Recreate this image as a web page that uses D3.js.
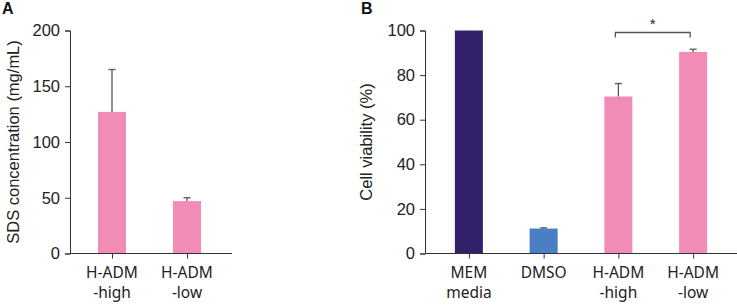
<!DOCTYPE html>
<html>
<head>
<meta charset="utf-8">
<script src="https://cdn.jsdelivr.net/npm/d3@7"></script>
<style>
  body { margin: 0; background: #fff; }
  svg { display: block; }
  .tick text { font-family: "Liberation Sans", Arial, sans-serif; font-size: 16.5px; fill: #222; }
  .cat { font-family: "Noto Sans", sans-serif; font-size: 15.5px; fill: #222; }
  .ylab { font-family: "Liberation Sans", Arial, sans-serif; font-size: 16.5px; fill: #222; }
  .panel { font-family: "Liberation Sans", Arial, sans-serif; font-size: 16px; font-weight: bold; fill: #111; }
</style>
</head>
<body>
<svg id="chart" width="737" height="305"></svg>
<script>
// panel A: SDS concentration
const catsA   = [['H-ADM', '-high'], ['H-ADM', '-low']];
const valuesA = [127, 47];
const errorsA = [38, 3];
const ticksA  = [0, 50, 100, 150, 200];

// panel B: cell viability
const catsB   = [['MEM', 'media'], ['DMSO'], ['H-ADM', '-high'], ['H-ADM', '-low']];
const valuesB = [100, 11.2, 70.4, 90.4];
const errorsB = [0, 0.3, 5.8, 1.2];
const colorsB = ['#33206b', '#4a7fc4', '#f08cb6', '#f08cb6'];
const ticksB  = [0, 20, 40, 60, 80, 100];

const pink = '#f08cb6';
const svg = d3.select('#chart');

function panel(opt) {
    const y = d3.scaleLinear().domain([0, opt.max]).range([253.5, 30.5]);
    const x = d3.scalePoint().domain(opt.cats.map((d, i) => i)).range(opt.xr).padding(0.5);
    const g = svg.append('g');

    // bars
    g.selectAll('rect.bar')
        .data(opt.values)
        .enter()
        .append('rect')
        .attr('class', 'bar')
        .attr('x', (d, i) => x(i) - 14)
        .attr('width', 28)
        .attr('y', d => y(d))
        .attr('height', d => y(0) - y(d))
        .attr('fill', (d, i) => opt.colors[i]);

    // error bars (upper only)
    opt.values.forEach((v, i) => {
        if (!opt.errors[i]) return;
        const top = y(v + opt.errors[i]);
        g.append('line')
            .attr('x1', x(i)).attr('x2', x(i))
            .attr('y1', y(v)).attr('y2', top)
            .attr('stroke', '#555').attr('stroke-width', 1.3);
        g.append('line')
            .attr('x1', x(i) - 3.5).attr('x2', x(i) + 3.5)
            .attr('y1', top).attr('y2', top)
            .attr('stroke', '#555').attr('stroke-width', 1.3);
    });

    // y axis
    g.append('g')
        .attr('transform', `translate(${opt.x0}, 0)`)
        .call(d3.axisLeft(y).tickValues(opt.ticks).tickSizeOuter(0).tickSize(5).tickPadding(5))
        .call(a => a.selectAll('path, line').attr('stroke', '#333'));

    // x axis
    const xa = g.append('g')
        .attr('transform', `translate(0, ${y(0)})`)
        .call(d3.axisBottom(x).tickSize(5).tickFormat(''));
    xa.select('.domain').remove();
    xa.selectAll('line').attr('stroke', '#333');
    g.append('line')
        .attr('x1', opt.x0).attr('x2', opt.x1)
        .attr('y1', y(0)).attr('y2', y(0))
        .attr('stroke', '#333');

    // category labels
    opt.cats.forEach((lines, i) => {
        lines.forEach((t, k) => {
            g.append('text')
                .attr('class', 'cat')
                .attr('x', x(i))
                .attr('y', 278 + k * 20)
                .attr('text-anchor', 'middle')
                .text(t);
        });
    });

    // y label
    g.append('text')
        .attr('class', 'ylab')
        .attr('transform', `translate(${opt.labelX}, ${(y(0) + y(opt.max)) / 2}) rotate(-90)`)
        .attr('text-anchor', 'middle')
        .attr('dy', '0.35em')
        .text(opt.label);

    g.append('text').attr('class', 'panel')
        .attr('x', opt.letterX).attr('y', 14)
        .text(opt.letter);

    return {x, y, g};
}

panel({
    cats: catsA, values: valuesA, errors: errorsA, colors: [pink, pink],
    ticks: ticksA, max: 200, x0: 70, x1: 232, xr: [74.5, 224.5],
    label: 'SDS concentration (mg/mL)', labelX: 13, letter: 'A', letterX: 2
});

const b = panel({
    cats: catsB, values: valuesB, errors: errorsB, colors: colorsB,
    ticks: ticksB, max: 100, x0: 425, x1: 737, xr: [431.5, 730.5],
    label: 'Cell viability (%)', labelX: 366, letter: 'B', letterX: 361
});

// significance bracket between H-ADM -high and -low
const bx1 = b.x(2) - 3, bx2 = b.x(3) - 3;
b.g.append('path')
    .attr('d', `M${bx1},37.5V32.5H${bx2}V37.5`)
    .attr('fill', 'none').attr('stroke', '#555').attr('stroke-width', 1.3);
b.g.append('text')
    .attr('x', (bx1 + bx2) / 2).attr('y', 29)
    .attr('text-anchor', 'middle')
    .attr('font-family', 'Liberation Sans, Arial, sans-serif')
    .attr('font-size', 15).attr('fill', '#222')
    .text('*');
</script>
</body>
</html>
